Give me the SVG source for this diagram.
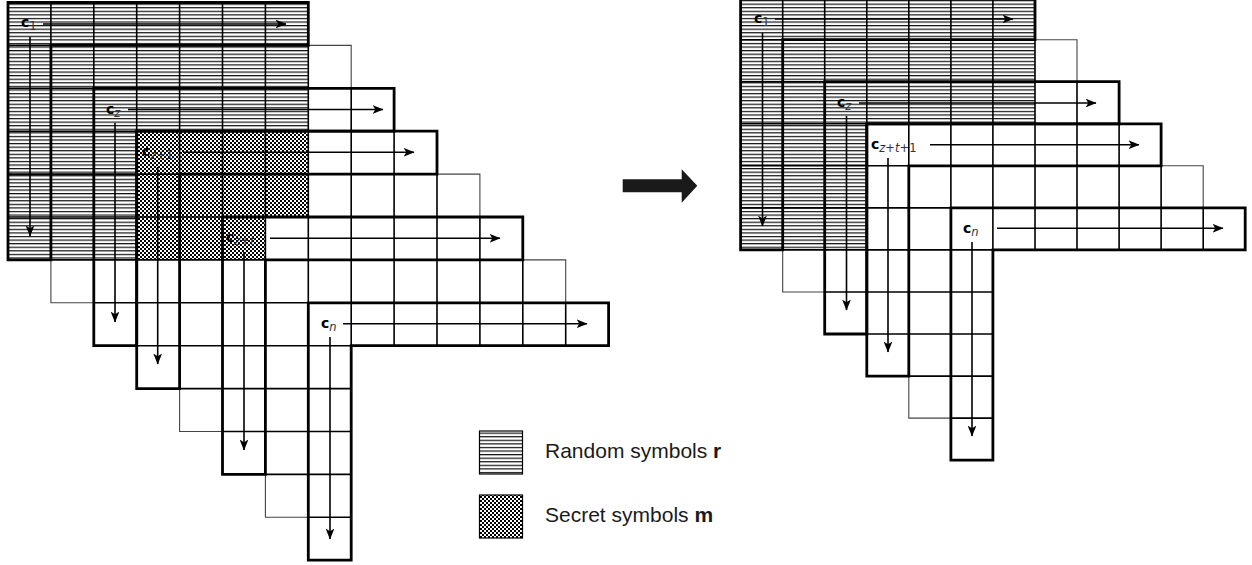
<svg xmlns="http://www.w3.org/2000/svg" width="1252" height="565" viewBox="0 0 1252 565">
<style>
.grid{fill:none;stroke:#000;stroke-width:1.6}
.thick{fill:none;stroke:#000;stroke-width:2.8;stroke-linejoin:miter}
.thin{fill:none;stroke:#444;stroke-width:1.1}
.arr{stroke:#000;stroke-width:1.6;fill:none;marker-end:url(#ah)}
.c{font-family:"DejaVu Sans",sans-serif;font-weight:bold;font-size:14px;fill:#000}
.s{font-family:"DejaVu Sans",sans-serif;font-size:11.5px;fill:#333}
.i{font-style:italic}
.leg{font-family:"Liberation Sans",Arial,sans-serif;font-size:21px;fill:#1a1a1a}
</style>
<defs>
<pattern id="hz" patternUnits="userSpaceOnUse" width="8" height="3.575">
<rect width="8" height="3.575" fill="#fff"/>
<rect y="0" width="8" height="1.2" fill="#111"/>
</pattern>
<pattern id="ck" patternUnits="userSpaceOnUse" width="4" height="4">
<rect width="4" height="4" fill="#fff"/>
<rect x="0" y="0" width="2" height="2" fill="#000"/>
<rect x="2" y="2" width="2" height="2" fill="#000"/>
</pattern>
<marker id="ah" viewBox="0 0 10 8" refX="9.5" refY="4" markerWidth="11" markerHeight="8.8" markerUnits="userSpaceOnUse" orient="auto">
<path d="M0,0 L10,4 L0,8 L2.5,4 Z" fill="#000"/>
</marker>
</defs>
<rect width="1252" height="565" fill="#fff"/>

<!-- fills -->
<g id="fills">
<path d="M8,2.5 H308.3 V131.2 H136.7 V259.9 H8 Z" fill="url(#hz)"/>
<path d="M136.7,131.2 H308.3 V217 H265.4 V259.9 H136.7 Z" fill="url(#ck)"/>
<path d="M740.6,-2.4 H1035 V123.8 H866.8 V249.9 H740.6 Z" fill="url(#hz)"/>
</g>

<!-- LEFT diagram strips -->
<g id="L-strip1">
<path class="grid" d="M50.9,45.4V88.3 M93.8,45.4V88.3 M136.7,45.4V88.3 M179.6,45.4V88.3 M222.5,45.4V88.3 M265.4,45.4V88.3 M308.3,45.4V88.3 M50.9,88.3H93.8 M50.9,131.2H93.8 M50.9,174.1H93.8 M50.9,217H93.8 M50.9,259.9H93.8"/>
<path class="thin" d="M50.9,45.4 H351.2 V88.3 H93.8 V302.8 H50.9 Z"/>
</g>
<g id="L-strip4">
<path class="grid" d="M222.5,174.1V217 M265.4,174.1V217 M308.3,174.1V217 M351.2,174.1V217 M394.1,174.1V217 M437,174.1V217 M179.6,217H222.5 M179.6,259.9H222.5 M179.6,302.8H222.5 M179.6,345.7H222.5 M179.6,388.6H222.5"/>
<path class="thin" d="M179.6,174.1 H479.9 V217 H222.5 V431.5 H179.6 Z"/>
</g>
<g id="L-strip6">
<path class="grid" d="M308.3,259.9V302.8 M351.2,259.9V302.8 M394.1,259.9V302.8 M437,259.9V302.8 M479.9,259.9V302.8 M522.8,259.9V302.8 M265.4,302.8H308.3 M265.4,345.7H308.3 M265.4,388.6H308.3 M265.4,431.5H308.3 M265.4,474.4H308.3"/>
<path class="thin" d="M265.4,259.9 H565.7 V302.8 H308.3 V517.3 H265.4 Z"/>
</g>
<g id="L-c1">
<path class="grid" d="M50.9,2.5V45.4 M93.8,2.5V45.4 M136.7,2.5V45.4 M179.6,2.5V45.4 M222.5,2.5V45.4 M265.4,2.5V45.4 M8,45.4H50.9 M8,88.3H50.9 M8,131.2H50.9 M8,174.1H50.9 M8,217H50.9"/>
<path class="thick" d="M8,2.5 H308.3 V45.4 H50.9 V259.9 H8 Z"/>
<text x="21" y="27"><tspan class="c">c</tspan><tspan class="s" dy="3">1</tspan></text>
</g>
<g id="L-cz">
<path class="grid" d="M136.7,88.3V131.2 M179.6,88.3V131.2 M222.5,88.3V131.2 M265.4,88.3V131.2 M308.3,88.3V131.2 M351.2,88.3V131.2 M93.8,131.2H136.7 M93.8,174.1H136.7 M93.8,217H136.7 M93.8,259.9H136.7 M93.8,302.8H136.7"/>
<path class="thick" d="M93.8,88.3 H394.1 V131.2 H136.7 V345.7 H93.8 Z"/>
<text x="106" y="113.5"><tspan class="c">c</tspan><tspan class="s i" dy="3">z</tspan></text>
</g>
<g id="L-cz1">
<path class="grid" d="M179.6,131.2V174.1 M222.5,131.2V174.1 M265.4,131.2V174.1 M308.3,131.2V174.1 M351.2,131.2V174.1 M394.1,131.2V174.1 M136.7,174.1H179.6 M136.7,217H179.6 M136.7,259.9H179.6 M136.7,302.8H179.6 M136.7,345.7H179.6"/>
<path class="thick" d="M136.7,131.2 H437 V174.1 H179.6 V388.6 H136.7 Z"/>
<text x="142" y="156"><tspan class="c">c</tspan><tspan class="s" dy="3"><tspan class="i">z</tspan>+1</tspan></text>
</g>
<g id="L-czt">
<path class="grid" d="M265.4,217V259.9 M308.3,217V259.9 M351.2,217V259.9 M394.1,217V259.9 M437,217V259.9 M479.9,217V259.9 M222.5,259.9H265.4 M222.5,302.8H265.4 M222.5,345.7H265.4 M222.5,388.6H265.4 M222.5,431.5H265.4"/>
<path class="thick" d="M222.5,217 H522.8 V259.9 H265.4 V474.4 H222.5 Z"/>
<text x="226" y="241.5"><tspan class="c">c</tspan><tspan class="s" dy="3"><tspan class="i">z</tspan>+<tspan class="i">t</tspan></tspan></text>
</g>
<g id="L-cn">
<path class="grid" d="M351.2,302.8V345.7 M394.1,302.8V345.7 M437,302.8V345.7 M479.9,302.8V345.7 M522.8,302.8V345.7 M565.7,302.8V345.7 M308.3,345.7H351.2 M308.3,388.6H351.2 M308.3,431.5H351.2 M308.3,474.4H351.2 M308.3,517.3H351.2"/>
<path class="thick" d="M308.3,302.8 H608.6 V345.7 H351.2 V560.2 H308.3 Z"/>
<text x="321" y="327.5"><tspan class="c">c</tspan><tspan class="s i" dy="3">n</tspan></text>
</g>

<!-- big arrow -->
<g id="transform-arrow">
<polygon points="622.7,179.3 681.7,179.3 681.7,169.3 697.3,185.7 681.7,202.7 681.7,192.3 622.7,192.3" fill="#1a1a1a"/>
</g>

<!-- RIGHT diagram strips -->
<g id="R-strip1">
<path class="grid" d="M824.7,39.7V81.7 M866.8,39.7V81.7 M908.8,39.7V81.7 M950.9,39.7V81.7 M992.9,39.7V81.7 M1035,39.7V81.7 M782.7,81.7H824.7 M782.7,123.8H824.7 M782.7,165.8H824.7 M782.7,207.9H824.7 M782.7,249.9H824.7"/>
<path class="thin" d="M782.7,39.7 H1077 V81.7 H824.7 V292 H782.7 Z"/>
</g>
<g id="R-strip4">
<path class="grid" d="M950.9,165.8V207.9 M992.9,165.8V207.9 M1035,165.8V207.9 M1077,165.8V207.9 M1119.1,165.8V207.9 M1161.1,165.8V207.9 M908.8,207.9H950.9 M908.8,249.9H950.9 M908.8,292H950.9 M908.8,334H950.9 M908.8,376.1H950.9"/>
<path class="thin" d="M908.8,165.8 H1203.2 V207.9 H950.9 V418.1 H908.8 Z"/>
</g>
<g id="R-c1">
<path class="grid" d="M782.7,-2.4V39.7 M824.7,-2.4V39.7 M866.8,-2.4V39.7 M908.8,-2.4V39.7 M950.9,-2.4V39.7 M992.9,-2.4V39.7 M740.6,39.7H782.7 M740.6,81.7H782.7 M740.6,123.8H782.7 M740.6,165.8H782.7 M740.6,207.9H782.7"/>
<path class="thick" d="M740.6,-2.4 H1035 V39.7 H782.7 V249.9 H740.6 Z"/>
<text x="754" y="23"><tspan class="c">c</tspan><tspan class="s" dy="3">1</tspan></text>
</g>
<g id="R-cz">
<path class="grid" d="M866.8,81.7V123.8 M908.8,81.7V123.8 M950.9,81.7V123.8 M992.9,81.7V123.8 M1035,81.7V123.8 M1077,81.7V123.8 M824.7,123.8H866.8 M824.7,165.8H866.8 M824.7,207.9H866.8 M824.7,249.9H866.8 M824.7,292H866.8"/>
<path class="thick" d="M824.7,81.7 H1119.1 V123.8 H866.8 V334 H824.7 Z"/>
<text x="837" y="107"><tspan class="c">c</tspan><tspan class="s i" dy="3">z</tspan></text>
</g>
<g id="R-czt1">
<path class="grid" d="M908.8,123.8V165.8 M950.9,123.8V165.8 M992.9,123.8V165.8 M1035,123.8V165.8 M1077,123.8V165.8 M1119.1,123.8V165.8 M866.8,165.8H908.8 M866.8,207.9H908.8 M866.8,249.9H908.8 M866.8,292H908.8 M866.8,334H908.8"/>
<path class="thick" d="M866.8,123.8 H1161.1 V165.8 H908.8 V376.1 H866.8 Z"/>
<text x="871" y="148.5"><tspan class="c">c</tspan><tspan class="s" dy="3"><tspan class="i">z</tspan>+<tspan class="i">t</tspan>+1</tspan></text>
</g>
<g id="R-cn">
<path class="grid" d="M992.9,207.9V249.9 M1035,207.9V249.9 M1077,207.9V249.9 M1119.1,207.9V249.9 M1161.1,207.9V249.9 M1203.2,207.9V249.9 M950.9,249.9H992.9 M950.9,292H992.9 M950.9,334H992.9 M950.9,376.1H992.9 M950.9,418.1H992.9"/>
<path class="thick" d="M950.9,207.9 H1245.2 V249.9 H992.9 V460.2 H950.9 Z"/>
<text x="963" y="232.5"><tspan class="c">c</tspan><tspan class="s i" dy="3">n</tspan></text>
</g>

<!-- connectors -->
<g id="connectors">
<line class="arr" x1="43" y1="24" x2="286" y2="24"/>
<line class="arr" x1="30" y1="37" x2="30" y2="236"/>
<line class="arr" x1="128" y1="109.5" x2="383" y2="109.5"/>
<line class="arr" x1="115" y1="123" x2="115" y2="322"/>
<line class="arr" x1="183" y1="152.3" x2="414" y2="152.3"/>
<line class="arr" x1="157.7" y1="167" x2="157.7" y2="364"/>
<line class="arr" x1="270" y1="238.3" x2="500" y2="238.3"/>
<line class="arr" x1="244" y1="252" x2="244" y2="450"/>
<line class="arr" x1="343" y1="323.7" x2="587" y2="323.7"/>
<line class="arr" x1="330" y1="337" x2="330" y2="539"/>
<line class="arr" x1="775" y1="19" x2="1013" y2="19"/>
<line class="arr" x1="762.5" y1="33" x2="762.5" y2="226"/>
<line class="arr" x1="859" y1="103" x2="1096" y2="103"/>
<line class="arr" x1="846.5" y1="116" x2="846.5" y2="310"/>
<line class="arr" x1="930" y1="144.7" x2="1139" y2="144.7"/>
<line class="arr" x1="888" y1="158" x2="888" y2="352"/>
<line class="arr" x1="997" y1="228.3" x2="1223" y2="228.3"/>
<line class="arr" x1="972" y1="242" x2="972" y2="436"/>
</g>

<!-- legend -->
<g id="legend-random">
<rect x="479.5" y="431" width="43" height="43" fill="url(#hz)" stroke="#000" stroke-width="1.2"/>
<text class="leg" x="545" y="458">Random symbols <tspan font-weight="bold">r</tspan></text>
</g>
<g id="legend-secret">
<rect x="479.5" y="495" width="43" height="43" fill="url(#ck)" stroke="#000" stroke-width="1.2"/>
<text class="leg" x="545" y="522">Secret symbols <tspan font-weight="bold">m</tspan></text>
</g>
</svg>
